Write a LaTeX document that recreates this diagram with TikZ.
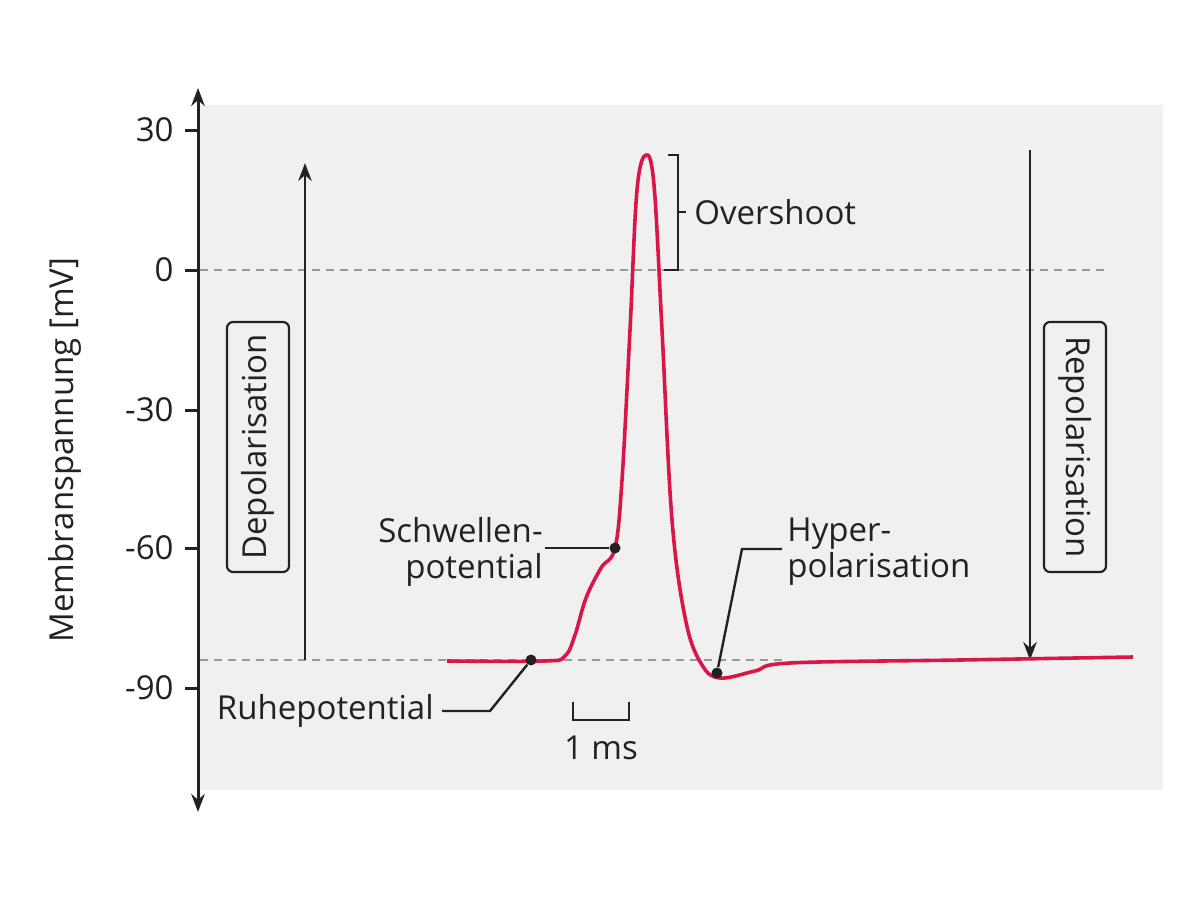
\documentclass[tikz,border=0pt]{standalone}
\usepackage{fontspec}
\setmainfont{Open Sans}
\usetikzlibrary{arrows.meta}
\definecolor{apred}{RGB}{218,22,72}
\definecolor{bggray}{RGB}{240,240,240}
\definecolor{txtgray}{RGB}{34,34,34}
\tikzset{
    lbl/.style={font=\fontsize{16.5}{18}\selectfont, text=txtgray, inner sep=1pt},
    lead/.style={line width=1.2pt, draw=txtgray},
    pt/.style={circle, fill=txtgray, inner sep=0pt, minimum size=5.5pt},
    phase/.style={draw=txtgray, rounded corners=3pt, line width=1.1pt, minimum width=125pt, minimum height=31pt, rotate=90},
    refline/.style={dash pattern=on 4pt off 3pt, line width=1.2pt, draw=gray!80}
}
\begin{document}
\begin{tikzpicture}[x=0.5pt, y=-0.5pt]
    \useasboundingbox (0,0) rectangle (1200,900);
    \fill[bggray] (200,105) rectangle (1163,790);

    % axis
    \coordinate (top) at (198,88);
    \coordinate (bot) at (198,812);
    \draw[{Stealth[length=9pt]}-{Stealth[length=9pt]}, line width=1.5pt, txtgray] (bot) -- (top);
    \foreach \v/\y in {30/130, 0/270, -30/410, -60/548, -90/688} {
        \draw[line width=1.5pt, txtgray] (185,\y) -- (198,\y);
        \node[lbl, anchor=east] at (176,\y) {\v};
    }
    \node[lbl, rotate=90] (ylab) at (65,450) {Membranspannung [mV]};

    % reference lines
    \draw[refline] (200,270) -- (1108,270);
    \draw[refline] (200,660) -- (782,660);

    % phases
    \coordinate (dstart) at (305,660);
    \coordinate (dend) at (305,163);
    \draw[-{Stealth[length=9pt]}, lead] (dstart) -- (dend);
    \node[phase, lbl] (depol) at (258,447) {Depolarisation};
    \coordinate (rstart) at (1030,150);
    \coordinate (rend) at (1030,660);
    \draw[-{Stealth[length=9pt]}, lead] (rstart) -- (rend);
    \node[phase, lbl, rotate=180] (repol) at (1075,447) {Repolarisation};

    % action potential
    \draw[apred, line width=1.8pt] plot[smooth, tension=0.6] coordinates {
        (447,661) (545,661) (565,656) (575,635) (586,598) (601,568) (615,548)
        (622,480) (630,330) (637,190) (646,155) (654,185) (662,330) (672,520)
        (686,622) (702,665) (720,678) (755,671) (790,663) (960,660) (1133,657)};

    % markers
    \node[pt] (rest) at (531,660) {};
    \node[pt] (thresh) at (615,548) {};
    \node[pt] (hyper) at (717,673) {};

    \node[lbl, anchor=east] (ruhe) at (436,711) {Ruhepotential};
    \draw[lead] (ruhe.east) ++(6,0) -- (490,711) -- (rest);
    \node[lbl, anchor=east, align=right] (schw) at (545,552) {Schwellen-\\potential};
    \draw[lead] (545,548) -- (thresh);
    \node[lbl, anchor=west, align=left] (hyp) at (785,552) {Hyper-\\polarisation};
    \draw[lead] (hyper) -- (742,549) -- (782,549);

    % overshoot bracket
    \draw[lead] (668,155) -- (678,155) -- (678,270) -- (664,270);
    \draw[lead] (678,212) -- (686,212);
    \node[lbl, anchor=west] (over) at (692,212) {Overshoot};

    % scale bar
    \draw[lead] (573,702) -- (573,720) -- (629,720) -- (629,702);
    \node[lbl] (ms) at (601,748) {1 ms};
\end{tikzpicture}
\end{document}
